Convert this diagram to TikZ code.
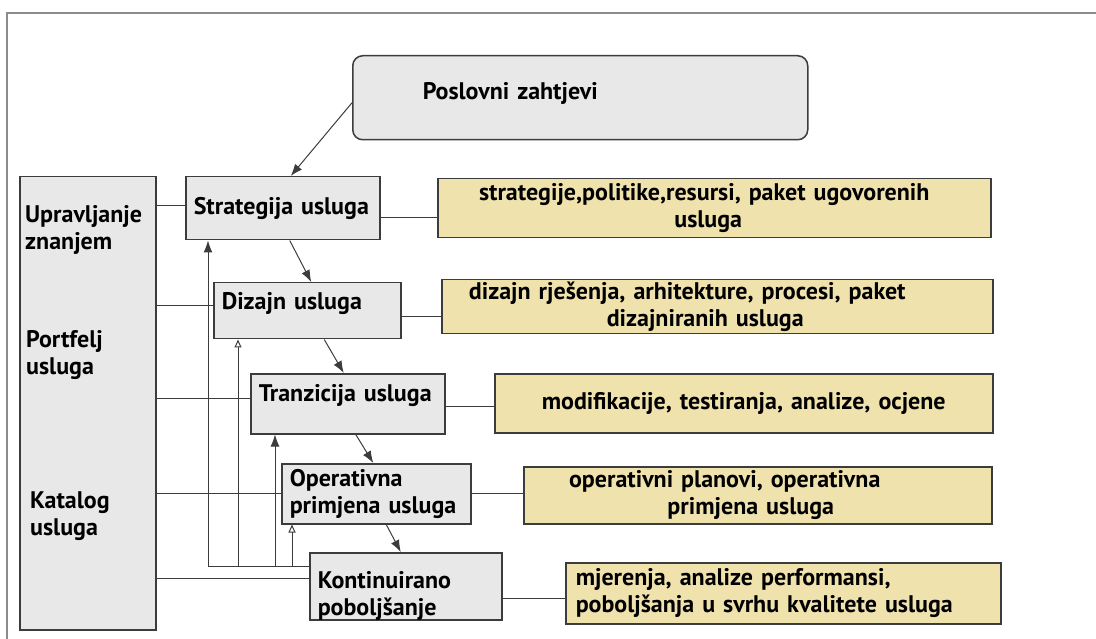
\documentclass[tikz,border=0pt]{standalone}
\usepackage{fontspec}
\setmainfont{PT Sans}
\usetikzlibrary{calc,arrows.meta}

\definecolor{boxgray}{RGB}{232,232,232}
\definecolor{boxyellow}{RGB}{240,226,173}
\definecolor{edgegray}{RGB}{60,60,60}
\definecolor{framegray}{RGB}{140,140,140}

\tikzset{
  txt/.style={font=\fontsize{24}{27}\selectfont\bfseries},
  proc/.style={txt, draw=edgegray, line width=1.5pt, fill=boxgray, anchor=north west,
    align=left, inner xsep=8pt, inner ysep=0pt},
  result/.style={txt, draw=edgegray, line width=1.5pt, fill=boxyellow, anchor=north west,
    align=center, inner xsep=6pt, inner ysep=0pt},
  side/.style={txt, anchor=north west, align=left, inner sep=0pt},
  link/.style={draw=edgegray, line width=1pt},
  arr/.style={link, -{Latex[length=12pt,width=9pt]}},
  arrsm/.style={link, -{Triangle[open,length=8pt,width=7pt]}}
}

\begin{document}
\begin{tikzpicture}[x=1pt,y=-1pt]
\useasboundingbox (0,0) rectangle (1096,639);

% frame
\draw[framegray, line width=1.5pt] (7,639) -- (7,13) -- (1096,13);

\node[proc, rounded corners=10pt, text width=315pt, inner xsep=70pt,
  minimum height=84pt, text depth=14pt] (biz) at (352,55) {Poslovni zahtjevi};

% left column
\node[proc, minimum width=136pt, minimum height=453pt, inner sep=0pt] (kb) at (19,176) {};
\node[side] (know) at (25,205) {Upravljanje\\znanjem};
\node[side] (port) at (26,330) {Portfelj\\usluga};
\node[side] (cat) at (30,491) {Katalog\\usluga};

% processes
\node[proc, text width=178pt, minimum height=63pt] (strat) at (185,176) {Strategija usluga};
\node[proc, text width=171pt, minimum height=56pt, text depth=19pt] (dsgn) at (213,282) {Dizajn usluga};
\node[proc, text width=178pt, minimum height=60pt, text depth=22pt] (tran) at (250,373) {Tranzicija usluga};
\node[proc, text width=173pt, minimum height=60pt] (oper) at (281,463) {Operativna\\primjena usluga};
\node[proc, text width=176pt, minimum height=67pt, text depth=12pt] (kont) at (309,552) {Kontinuirano\\poboljšanje};

% outputs
\node[result, text width=541pt, minimum height=59pt] (r1) at (437,178) {strategije,politike,resursi, paket ugovorenih\makebox[20pt]{}\\usluga\makebox[12pt]{}};
\node[result, text width=539pt, minimum height=54pt] (r2) at (441,279) {dizajn rješenja, arhitekture, procesi, paket\makebox[60pt]{}\\dizajniranih usluga\makebox[24pt]{}};
\node[result, text width=486pt, minimum height=59pt] (r3) at (494,373) {modifikacije, testiranja, analize, ocjene};
\node[result, text width=456pt, minimum height=57pt] (r4) at (523,466) {operativni planovi, operativna\makebox[66pt]{}\\primjena usluga\makebox[14pt]{}};
\node[result, text width=415pt, minimum height=61pt, align=left, inner xsep=10pt] (r5) at (565,562) {mjerenja, analize performansi,\\poboljšanja u svrhu kvalitete usluga};

% chain
\draw[arr] ($(biz.west)+(0,5)$) -- ($(strat.north)+(8,0)$);
\draw[arr] ($(strat.south)+(7,0)$) -- ($(dsgn.north)+(4,0)$);
\draw[arr] ($(dsgn.south)+(17,0)$) -- ($(tran.north)+(-4,0)$);
\draw[arr] ($(tran.south)+(8,0)$) -- ($(oper.north)+(-3,0)$);
\draw[arr] ($(oper.south)+(10,0)$) -- ($(kont.north)+(-5,0)$);

% left column links
\draw[link] ($(strat.west)+(0,-3)$) -- ($(strat.west -| kb.east)+(0,-3)$);
\draw[link] ($(dsgn.west)+(0,-5)$) -- ($(dsgn.west -| kb.east)+(0,-5)$);
\draw[link] ($(tran.west)+(0,-5)$) -- ($(tran.west -| kb.east)+(0,-5)$);
\draw[link] (oper.west) -- (oper.west -| kb.east);
\draw[link] ($(kont.west)+(0,-8)$) -- ($(kont.west -| kb.east)+(0,-8)$);

% output links
\draw[link] ($(strat.east)+(0,9)$) -- ($(strat.east -| r1.west)+(0,9)$);
\draw[link] ($(dsgn.east)+(0,6)$) -- ($(dsgn.east -| r2.west)+(0,6)$);
\draw[link] ($(tran.east)+(0,3)$) -- ($(tran.east -| r3.west)+(0,3)$);
\draw[link] (oper.east) -- (oper.east -| r4.west);
\draw[link] ($(kont.east)+(0,12)$) -- ($(kont.east -| r5.west)+(0,12)$);

% feedback
\coordinate (back) at ($(kont.north west)+(0,14)$);
\draw[arr] (back) -| ($(strat.south west)+(23,0)$);
\draw[arrsm] (back) -| ($(dsgn.south west)+(25,0)$);
\draw[arr] (back) -| ($(tran.south west)+(25,0)$);
\draw[arrsm] (back) -| ($(oper.south west)+(11,0)$);
\end{tikzpicture}
\end{document}
